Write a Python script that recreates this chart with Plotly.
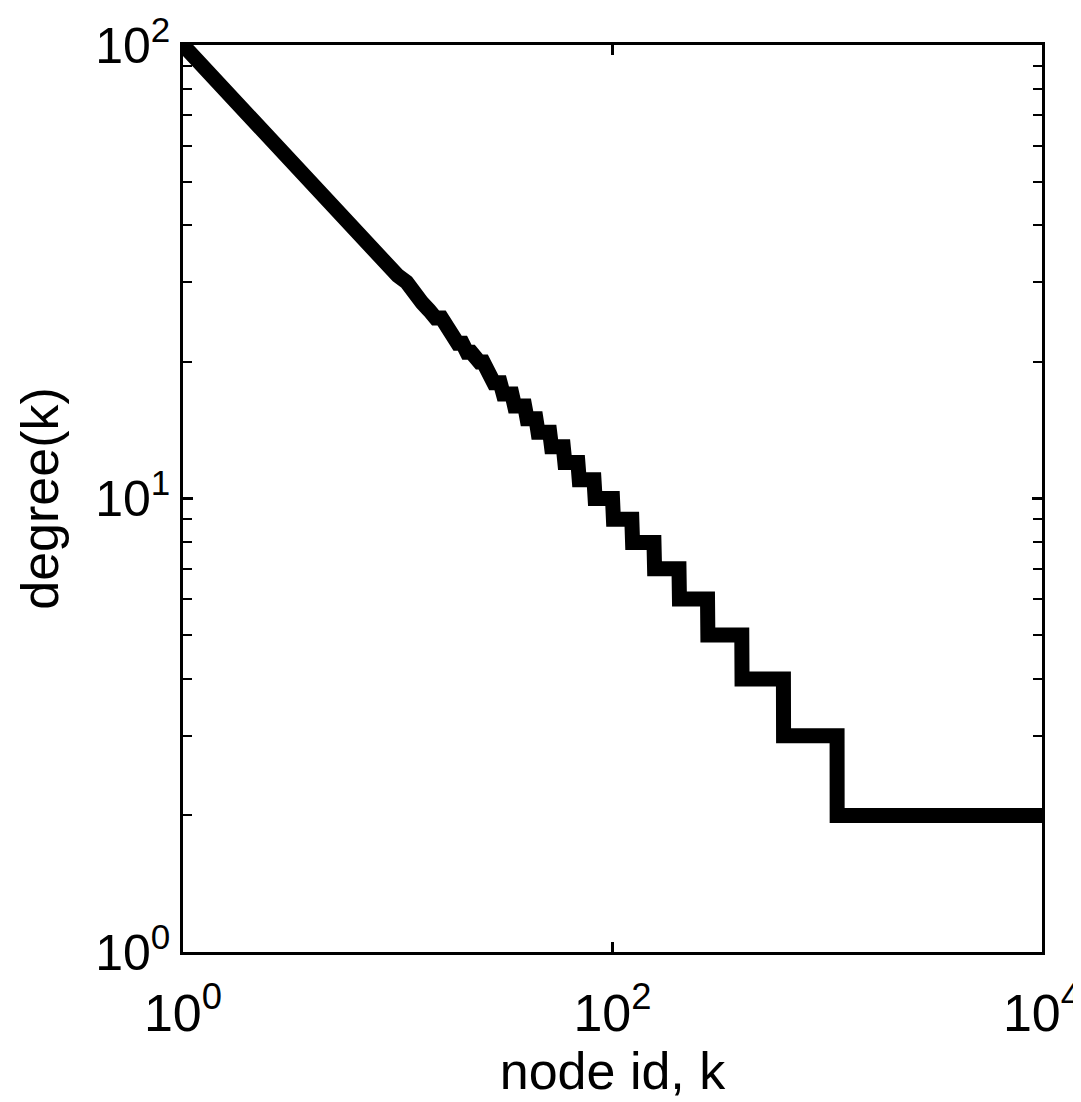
import plotly.graph_objects as go

# degree at each node id k = 1..82 (read from the smooth upper part of the curve)
k_head = list(range(1, 83))
deg_head = [100, 70, 57, 50, 44, 40, 37, 35, 33, 31,
            30, 28, 27, 26, 25, 25, 24, 23, 22, 22,
            21, 21, 20, 20, 20, 19, 19, 18, 18, 18,
            17, 17, 17, 17, 16, 16, 16, 16, 16, 15,
            15, 15, 15, 15, 14, 14, 14, 14, 14, 14,
            14, 13, 13, 13, 13, 13, 13, 13, 13, 12,
            12, 12, 12, 12, 12, 12, 12, 12, 12, 11,
            11, 11, 11, 11, 11, 11, 11, 11, 11, 11,
            11, 11]

# staircase part: node id where each degree level starts
step_k = [83, 101, 124, 157, 205, 278, 401, 626, 1112]
step_deg = [10, 9, 8, 7, 6, 5, 4, 3, 2]
k_last = 10000

x = list(k_head)
y = list(deg_head)
for i, d in enumerate(step_deg):
    k_end = step_k[i + 1] - 1 if i + 1 < len(step_k) else k_last
    x += [step_k[i], k_end]
    y += [d, d]

fig = go.Figure()
fig.add_trace(go.Scatter(
    x=x, y=y, mode='lines',
    line=dict(color='black', width=15),
    showlegend=False, cliponaxis=True
))

font = dict(family='Liberation Sans, Arial, Helvetica, sans-serif', color='black')

# the page body adds 8px on the left/top, margins take that into account
fig.update_layout(
    width=1081, height=1102,
    margin=dict(l=175, r=47, t=37, b=158),
    plot_bgcolor='white', paper_bgcolor='white',
    font=dict(size=48, **font),
)

fig.update_xaxes(
    type='log', range=[0, 4], automargin=False,
    tickvals=[1, 100, 10000],
    ticktext=['10<sup>0</sup>', '10<sup>2</sup>', '10<sup>4</sup>'],
    ticks='inside', ticklen=10, tickwidth=2.5, tickcolor='black',
    showline=True, linecolor='black', linewidth=2.5, mirror='ticks',
    showgrid=False, zeroline=False,
    tickfont=dict(size=52, **font),
    ticklabelstandoff=14, ticklabeloverflow='allow',
    title=dict(text='node id, k', font=dict(size=52, **font), standoff=12),
)

fig.update_yaxes(
    type='log', range=[0, 2], automargin=False,
    tickvals=[1, 10, 100],
    ticktext=['10<sup>0</sup>', '10<sup>1</sup>', '10<sup>2</sup>'],
    ticks='inside', ticklen=10, tickwidth=2.5, tickcolor='black',
    minor=dict(tickvals=[2, 3, 4, 5, 6, 7, 8, 9, 20, 30, 40, 50, 60, 70, 80, 90],
               ticks='inside', ticklen=9, tickwidth=2, tickcolor='black'),
    showline=True, linecolor='black', linewidth=2.5, mirror='ticks',
    showgrid=False, zeroline=False,
    tickfont=dict(size=50, **font),
    ticklabelstandoff=0, ticklabeloverflow='allow',
    title=dict(text='degree(k)', font=dict(size=52, **font), standoff=20),
)

fig.write_html("out.html")
